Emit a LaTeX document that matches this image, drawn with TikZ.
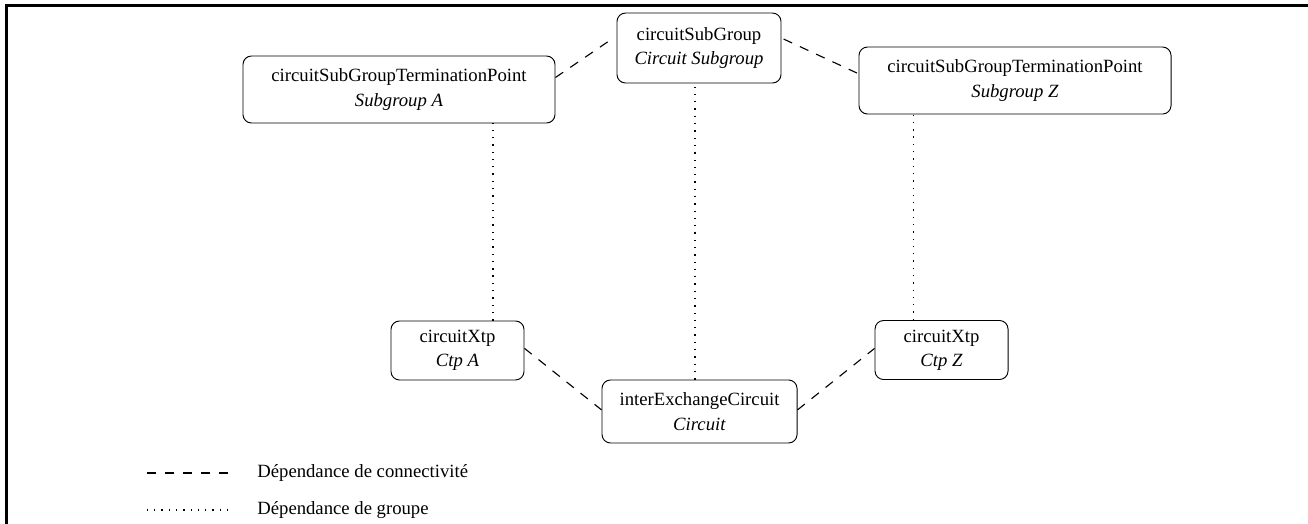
\documentclass[tikz,border=0pt]{standalone}
\usepackage{fontspec}
\setmainfont{Liberation Serif}
\tikzset{
  obj/.style={draw, line width=0.5pt, rounded corners=0.16cm, align=center, inner sep=0pt},
  conn/.style={line width=0.6pt, dash pattern=on 5pt off 4.6pt},
  grp/.style={line width=0.7pt, dash pattern=on 0.7pt off 3.2pt}
}

\begin{document}
\begin{tikzpicture}

\useasboundingbox (0,0) rectangle (24.594,-9.834);
\draw [line width=1.1pt] (0.122,-9.9) -- (0.122,-0.103) -- (24.65,-0.103);

\node[obj, minimum width=3.084cm, minimum height=1.316cm] (subgroup) at (13.143,-0.903) {circuitSubGroup\\[1pt] \textit{Circuit Subgroup}};
\node[obj, minimum width=5.867cm, minimum height=1.260cm] (tpA) at (7.502,-1.683) {circuitSubGroupTerminationPoint\\[1pt] \textit{Subgroup A}};
\node[obj, minimum width=5.867cm, minimum height=1.260cm] (tpZ) at (19.085,-1.514) {circuitSubGroupTerminationPoint\\[1pt] \textit{Subgroup Z}};
\node[obj, minimum width=2.501cm, minimum height=1.109cm] (xtpA) at (8.602,-6.590) {circuitXtp\\[1pt] \textit{Ctp A}};
\node[obj, minimum width=2.501cm, minimum height=1.109cm] (xtpZ) at (17.703,-6.581) {circuitXtp\\[1pt] \textit{Ctp Z}};
\node[obj, minimum width=3.667cm, minimum height=1.185cm] (iec) at (13.153,-7.737) {interExchangeCircuit\\[1pt] \textit{Circuit}};

\node[anchor=west, inner sep=0pt] (legconn) at (4.832,-8.894) {Dépendance de connectivité};
\node[anchor=west, inner sep=0pt] (leggrp) at (4.832,-9.590) {Dépendance de groupe};

\begin{scope}[conn]
\draw ([yshift=0.226cm]tpA.east) -- ([yshift=0.188cm, xshift=-0.06cm]subgroup.west); %tpA-subgroup
\draw ([yshift=0.169cm, xshift=0.04cm]subgroup.east) -- ([yshift=0.141cm, xshift=-0.03cm]tpZ.west); %subgroup-tpZ
\draw ([yshift=0.04cm]xtpA.east) -- ([yshift=0.03cm]iec.west); %xtpA-iec
\draw ([yshift=0.03cm]iec.east) -- ([yshift=0.03cm]xtpZ.west); %iec-xtpZ
\draw ([xshift=-0.54cm]legconn.west) -- ++(-1.58,0);
\end{scope}

\begin{scope}[grp]
\draw ([xshift=0.668cm]xtpA.north) -- ([xshift=0.668cm]xtpA.north |- tpA.south); %xtpA-tpA
\draw ([xshift=-0.085cm]iec.north) -- ([xshift=-0.085cm]iec.north |- subgroup.south); %iec-subgroup
\draw ([xshift=-0.527cm]xtpZ.north) -- ([xshift=-0.527cm]xtpZ.north |- tpZ.south); %xtpZ-tpZ
\draw ([xshift=-0.54cm]leggrp.west) -- ++(-1.64,0);
\end{scope}

\end{tikzpicture}
\end{document}
